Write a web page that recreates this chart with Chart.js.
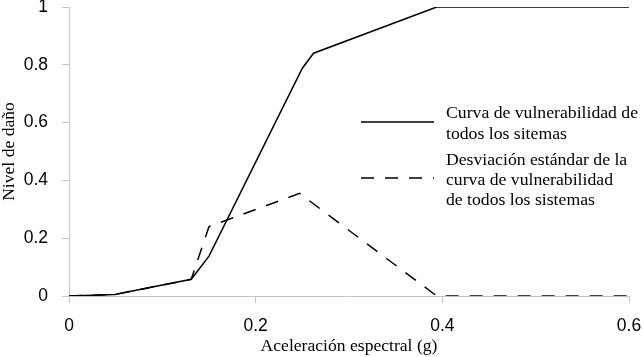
<!DOCTYPE html>
<html lang="es">
<head>
    <meta charset="UTF-8">
    <title>Curva de vulnerabilidad</title>
    <script src="https://cdnjs.cloudflare.com/ajax/libs/Chart.js/4.4.1/chart.umd.min.js"></script>
    <style>
        html, body { margin: 0; padding: 0; background: #ffffff; }
        .chart-container { position: relative; width: 643px; height: 357px; }
    </style>
</head>
<body>
    <div class="chart-container">
        <canvas id="vulnChart"></canvas>
    </div>

    <script>
        // Data
        const curveX = [0, 0.049, 0.131, 0.150, 0.250, 0.262, 0.394, 0.6];
        const curveY = [0, 0.005, 0.058, 0.138, 0.788, 0.840, 1.0, 1.0];

        const devX = [0, 0.049, 0.131, 0.150, 0.247, 0.394, 0.6];
        const devY = [0, 0.005, 0.058, 0.240, 0.355, 0.0, 0.0];

        const xTicks = [0, 0.2, 0.4, 0.6];
        const yTicks = [0, 0.2, 0.4, 0.6, 0.8, 1];

        const legendLabels = [
            ['Curva de vulnerabilidad de', 'todos los sitemas'],
            ['Desviación estándar de la', 'curva de vulnerabilidad', 'de todos los sistemas']
        ];

        const toPoints = (xs, ys) => xs.map((x, i) => ({ x: x, y: ys[i] }));

        const AXIS_GRAY = '#c4c4c4';
        const SERIF = '"Liberation Serif", "Times New Roman", serif';
        const SANS = '"Liberation Sans", Arial, sans-serif';

        // Legend drawn inside the plot, on the right side (two text blocks)
        const insideLegend = {
            id: 'insideLegend',
            afterDatasetsDraw(chart) {
                const ctx = chart.ctx;
                const blocks = [
                    { lineY: 122, baselines: [118, 139] },
                    { lineY: 178, baselines: [165, 185, 205] }
                ];
                ctx.save();
                ctx.font = '17.7px ' + SERIF;
                ctx.fillStyle = '#000';
                ctx.textBaseline = 'alphabetic';
                blocks.forEach((b, i) => {
                    const ds = chart.data.datasets[i];
                    ctx.beginPath();
                    ctx.strokeStyle = ds.borderColor;
                    ctx.lineWidth = ds.borderWidth;
                    ctx.setLineDash(ds.borderDash || []);
                    ctx.moveTo(361, b.lineY);
                    ctx.lineTo(434, b.lineY);
                    ctx.stroke();
                    ctx.setLineDash([]);
                    legendLabels[i].forEach((txt, j) => {
                        ctx.fillText(txt, 446, b.baselines[j]);
                    });
                });
                ctx.restore();
            }
        };

        const ctx = document.getElementById('vulnChart').getContext('2d');
        new Chart(ctx, {
            type: 'scatter',
            data: {
                datasets: [{
                    label: legendLabels[0].join(' '),
                    data: toPoints(curveX, curveY),
                    showLine: true,
                    borderColor: '#000000',
                    borderWidth: 1.5,
                    pointRadius: 0,
                    tension: 0
                }, {
                    label: legendLabels[1].join(' '),
                    data: toPoints(devX, devY),
                    showLine: true,
                    borderColor: '#000000',
                    borderWidth: 1.5,
                    borderDash: [13, 11],
                    pointRadius: 0,
                    tension: 0
                }]
            },
            options: {
                responsive: true,
                maintainAspectRatio: false,
                animation: false,
                layout: { padding: { top: 7, right: 14, left: 0, bottom: 0 } },
                plugins: {
                    legend: { display: false },
                    tooltip: { enabled: false }
                },
                scales: {
                    x: {
                        type: 'linear',
                        min: 0,
                        max: 0.6,
                        afterBuildTicks: (scale) => { scale.ticks = xTicks.map(v => ({ value: v })); },
                        afterFit: (scale) => { scale.height = 61; scale.paddingLeft = 0; scale.paddingRight = 14; },
                        border: { color: AXIS_GRAY, width: 1 },
                        grid: { drawOnChartArea: false, color: AXIS_GRAY, tickLength: 7 },
                        ticks: {
                            color: '#000',
                            padding: 13,
                            font: { family: SANS, size: 17.5 },
                            callback: (v) => String(v)
                        },
                        title: {
                            display: true,
                            text: 'Aceleración espectral (g)',
                            color: '#000',
                            font: { family: SERIF, size: 17.6, lineHeight: 1.2 },
                            padding: 0
                        }
                    },
                    y: {
                        min: 0,
                        max: 1,
                        afterBuildTicks: (scale) => { scale.ticks = yTicks.map(v => ({ value: v })); },
                        afterFit: (scale) => { scale.width = 69; scale.paddingTop = 7; scale.paddingBottom = 0; },
                        border: { color: AXIS_GRAY, width: 1 },
                        grid: { drawOnChartArea: false, color: AXIS_GRAY, tickLength: 7 },
                        ticks: {
                            color: '#000',
                            padding: 14,
                            font: { family: SANS, size: 17.5 },
                            callback: (v) => String(v)
                        },
                        title: {
                            display: true,
                            text: 'Nivel de daño',
                            color: '#000',
                            font: { family: SERIF, size: 17.6, lineHeight: 1.1 },
                            padding: 0
                        }
                    }
                }
            },
            plugins: [insideLegend]
        });
    </script>
</body>
</html>
